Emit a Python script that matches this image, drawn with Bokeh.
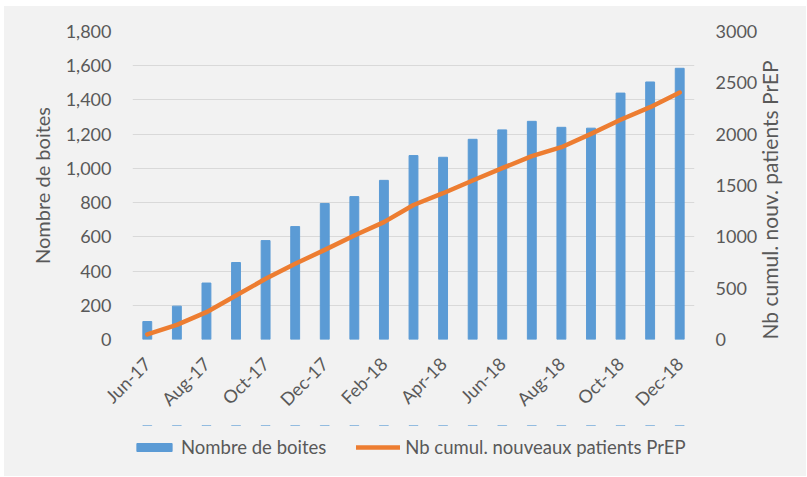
import math
from bokeh.plotting import figure
from bokeh.layouts import column, row
from bokeh.models import (Range1d, LinearAxis, FixedTicker, Legend, LegendItem,
                          NumeralTickFormatter, Spacer)
from bokeh.embed import file_html
from bokeh.resources import INLINE

months = ["Jun-17", "Jul-17", "Aug-17", "Sep-17", "Oct-17", "Nov-17", "Dec-17",
          "Jan-18", "Feb-18", "Mar-18", "Apr-18", "May-18", "Jun-18", "Jul-18",
          "Aug-18", "Sep-18", "Oct-18", "Nov-18", "Dec-18"]
boites = [105, 195, 330, 450, 578, 660, 795, 835, 930, 1075, 1065, 1170, 1225,
          1275, 1240, 1235, 1440, 1505, 1585]
cumul = [50, 143, 266, 428, 591, 737, 873, 1013, 1143, 1310, 1425, 1549, 1669,
         1786, 1873, 2003, 2140, 2263, 2406]
left_ticks = list(range(0, 1801, 200))
right_ticks = list(range(0, 3001, 500))
series_names = ["Nombre de boites", "Nb cumul. nouveaux patients PrEP"]

idx = list(range(len(months)))
FONT = "Lato"
TXT = "#595959"
BG = "#f2f2f2"
BAR_C = "#5b9bd5"
LINE_C = "#ed7d31"

p = figure(width=802, height=419, output_backend="svg", toolbar_location=None,
           x_range=Range1d(-0.5, len(months) - 0.5), y_range=Range1d(0, 1800),
           min_border_left=128, min_border_right=112, min_border_top=25,
           min_border_bottom=86)
p.background_fill_color = BG
p.border_fill_color = BG
p.outline_line_color = None
p.extra_y_ranges = {"right": Range1d(0, 3000)}

bars = p.vbar(x=idx, top=boites, width=0.3, fill_color=BAR_C, line_color=BAR_C)
line = p.line(x=idx, y=cumul, y_range_name="right", line_color=LINE_C,
              line_width=4.5, line_cap="round", line_join="round")

# x axis
xa = p.xaxis[0]
xa.ticker = FixedTicker(ticks=idx[::2], minor_ticks=[])
xa.major_label_overrides = {i: months[i] for i in idx[::2]}
xa.major_label_orientation = math.pi / 4

# left axis
ya = p.yaxis[0]
ya.ticker = FixedTicker(ticks=left_ticks, minor_ticks=[])
ya.formatter = NumeralTickFormatter(format="0,0")
ya.axis_label = "Nombre de boites"

ra = LinearAxis(y_range_name="right", ticker=FixedTicker(ticks=right_ticks, minor_ticks=[]),
                axis_label="Nb cumul. nouv. patients PrEP")
p.add_layout(ra, "right")

for ax in [xa, ya, ra]:
    ax.axis_line_color = None
    ax.major_tick_line_color = None
    ax.minor_tick_line_color = None
    ax.major_label_text_font = FONT
    ax.major_label_text_font_size = "18px"
    ax.major_label_text_color = TXT
    ax.axis_label_text_font = FONT
    ax.axis_label_text_font_size = "20px"
    ax.axis_label_text_font_style = "normal"
    ax.axis_label_text_color = TXT
    ax.major_label_standoff = 15
    ax.axis_label_standoff = 9
ra.axis_label_orientation = math.pi / 2
ra.axis_label_align = "start"
ra.axis_label_text_font_size = "21px"

p.xgrid.visible = False
p.ygrid.ticker = FixedTicker(ticks=left_ticks, minor_ticks=[])
p.ygrid.grid_line_color = "#d9d9d9"
p.ygrid.grid_line_width = 1.2

# legend strip below the chart (same frame; its renderers lie outside the visible y range)
lf = figure(width=802, height=51, output_backend="svg", toolbar_location=None,
            x_range=p.x_range, y_range=Range1d(-2, -1),
            x_axis_type=None, y_axis_type=None,
            min_border_left=128, min_border_right=112, min_border_top=0, min_border_bottom=0)
lf.background_fill_color = BG
lf.border_fill_color = BG
lf.outline_line_color = None
lf.grid.visible = False
lb = lf.vbar(x=idx, top=boites, width=0.3, fill_color=BAR_C, line_color=BAR_C)
ll = lf.line(x=idx, y=cumul, line_color=LINE_C, line_width=4.5, line_cap="round")

legend = Legend(items=[LegendItem(label=series_names[0], renderers=[lb]),
                       LegendItem(label=series_names[1], renderers=[ll])],
                orientation="horizontal", location=(0, 18), margin=0, padding=0,
                border_line_color=None, background_fill_alpha=0,
                label_text_font=FONT, label_text_font_size="18.5px", label_text_color=TXT,
                glyph_width=44, glyph_height=10, spacing=30, label_standoff=5)
lf.add_layout(legend)

inner = column(p, lf, styles={"background-color": BG})
page = column(Spacer(height=6), row(Spacer(width=4), inner))
open("out.html", "w").write(file_html(page, INLINE))
